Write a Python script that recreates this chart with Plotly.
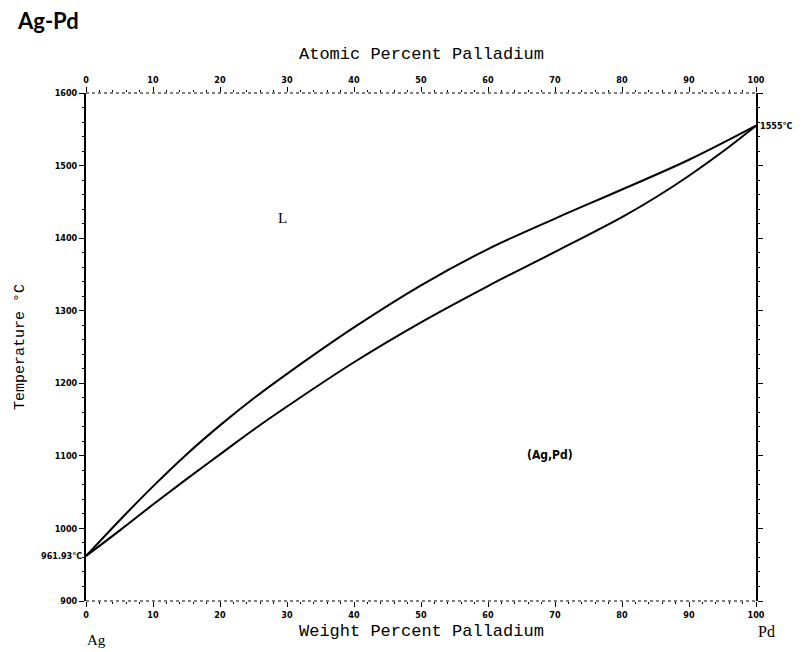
import plotly.graph_objects as go

# Data
liq_wt = [0, 5, 10, 15, 20, 25, 30, 40, 50, 60, 70, 80, 90, 100]
liq_T = [961.93, 1011, 1058, 1102, 1142, 1179, 1213, 1277, 1335, 1385, 1427, 1467, 1508, 1555]
sol_wt = [0, 5, 10, 15, 20, 25, 30, 40, 50, 60, 70, 80, 85, 90, 95, 100]
sol_T = [961.93, 997, 1033, 1068, 1102, 1136, 1168, 1229, 1284, 1334, 1381, 1429, 1456, 1486, 1519, 1555]

x_ticks = [0, 10, 20, 30, 40, 50, 60, 70, 80, 90, 100]
top_ticks = [0, 10, 20, 30, 40, 50, 60, 70, 80, 90, 100]
y_ticks = [900, 1000, 1100, 1200, 1300, 1400, 1500, 1600]

tickfont = dict(family="Liberation Sans Narrow, DejaVu Sans Condensed, Arial Narrow", size=9, color="black", weight="bold")
titlefont = dict(family="Liberation Mono, Courier New, monospace", size=17, color="black")

fig = go.Figure()
line_style = dict(color="black", width=2, shape="spline", smoothing=1.0)
fig.add_trace(go.Scatter(x=liq_wt, y=liq_T, mode="lines", line=line_style, showlegend=False))
fig.add_trace(go.Scatter(x=sol_wt, y=sol_T, mode="lines", line=line_style, showlegend=False))
# dummy trace for top axis
fig.add_trace(go.Scatter(x=[0, 100], y=[900, 900], xaxis="x2", mode="lines", line=dict(width=0),
                         showlegend=False, hoverinfo="skip"))

fig.update_layout(
    width=797, height=644,
    margin=dict(l=78, r=49, t=85, b=51),
    paper_bgcolor="white", plot_bgcolor="white",
    xaxis=dict(range=[0, 100], tickvals=x_ticks, ticks="outside", ticklen=5, tickwidth=1, tickcolor="black",
               showline=False, showgrid=False, zeroline=False, tickfont=tickfont,
               minor=dict(dtick=2, ticks="outside", ticklen=2, tickcolor="black")),
    xaxis2=dict(range=[0, 100], tickvals=top_ticks, overlaying="x", side="top", ticks="outside", ticklen=5,
                tickcolor="black", showline=False, showgrid=False, zeroline=False, tickfont=tickfont,
                minor=dict(dtick=2, ticks="outside", ticklen=2, tickcolor="black")),
    yaxis=dict(range=[900, 1600], tickvals=y_ticks, ticks="outside", ticklen=5, tickcolor="black",
               showline=True, linecolor="black", linewidth=2, mirror="ticks", showgrid=False, zeroline=False,
               tickfont=tickfont,
               minor=dict(dtick=20, ticks="outside", ticklen=2, tickcolor="black")),
    font=dict(color="black"),
)

shapes = []
for yv in [0, 1]:
    shapes.append(dict(type="line", xref="x domain", yref="y domain", x0=0, x1=1, y0=yv, y1=yv,
                       line=dict(color="black", width=1.2, dash="dot")))
fig.update_layout(shapes=shapes)

ann = [
    dict(text="<b>Ag-Pd</b>", xref="paper", yref="paper", x=-0.106, y=1.142, xanchor="left", yanchor="middle",
         showarrow=False, font=dict(family="Lato, Open Sans, Arial", size=22, color="black")),
    dict(text="Atomic Percent Palladium", xref="paper", yref="paper", x=0.5, y=1.075, xanchor="center",
         yanchor="middle", showarrow=False, font=titlefont),
    dict(text="Weight Percent Palladium", xref="paper", yref="paper", x=0.5, y=-0.061, xanchor="center",
         yanchor="middle", showarrow=False, font=titlefont),
    dict(text="Temperature °C", xref="paper", yref="paper", x=-0.0985, y=0.5, xanchor="center",
         yanchor="middle", textangle=-90, showarrow=False,
         font=dict(family="Liberation Mono, Courier New, monospace", size=15, color="black")),
    dict(text="Ag", xref="paper", yref="paper", x=0.016, y=-0.077, xanchor="center", yanchor="middle",
         showarrow=False, font=dict(family="Liberation Serif, Times New Roman", size=15, color="black")),
    dict(text="Pd", xref="paper", yref="paper", x=1.015, y=-0.061, xanchor="center", yanchor="middle",
         showarrow=False, font=dict(family="Liberation Serif, Times New Roman", size=16, color="black")),
    dict(text="961.93°C", xref="paper", yref="y", x=-0.003, y=961.93, xanchor="right", yanchor="middle",
         showarrow=False, font=tickfont),
    dict(text="1555°C", xref="paper", yref="y", x=1.003, y=1555, xanchor="left", yanchor="middle",
         showarrow=False, font=tickfont),
    dict(text="L", xref="x", yref="y", x=29.3, y=1428, showarrow=False,
         font=dict(family="Liberation Serif, Times New Roman", size=15, color="black")),
    dict(text="<b>(Ag,Pd)</b>", xref="x", yref="y", x=69.2, y=1101, showarrow=False,
         font=dict(family="Liberation Sans Narrow, DejaVu Sans Condensed", size=12, color="black")),
]
fig.update_layout(annotations=ann)

fig.write_html("out.html")
